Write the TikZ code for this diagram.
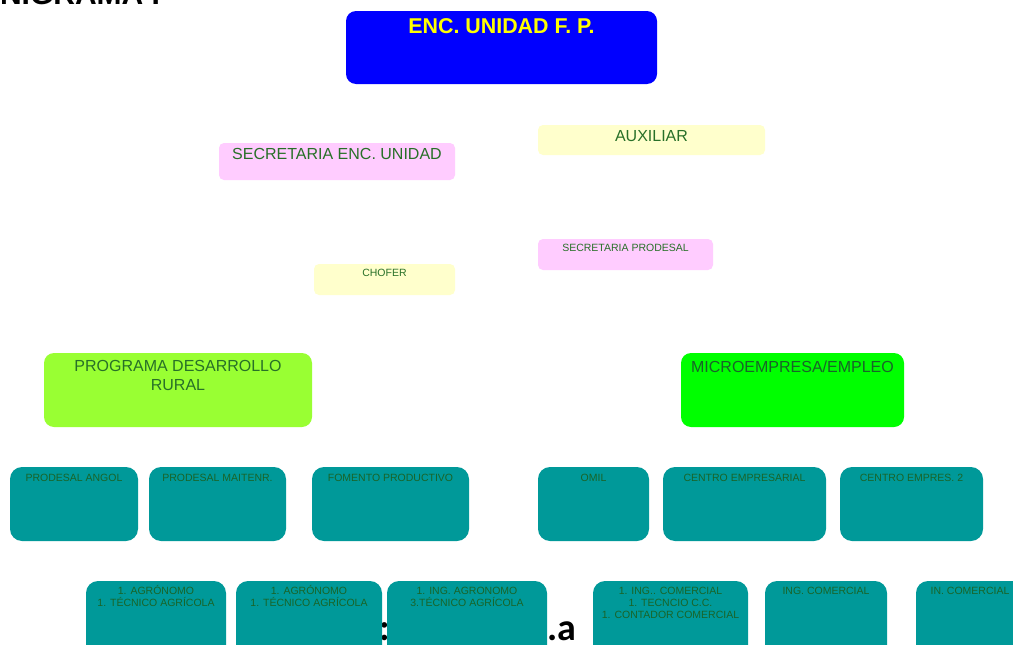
\documentclass[tikz,border=0pt]{standalone}
\usepackage{fontspec}
\setmainfont{Liberation Sans}
\newfontfamily\carl{Carlito}
\definecolor{topblue}{RGB}{0,0,255}
\definecolor{topyellow}{RGB}{255,255,0}
\definecolor{pinkbox}{RGB}{255,204,255}
\definecolor{creambox}{RGB}{255,255,204}
\definecolor{limebox}{RGB}{153,255,51}
\definecolor{greenbox}{RGB}{0,255,0}
\definecolor{tealbox}{RGB}{0,153,153}
\definecolor{txtgreen}{RGB}{40,112,40}
\definecolor{txtdark}{RGB}{25,100,40}
\begin{document}
\begin{tikzpicture}[x=1pt,y=-1pt,
  box/.style={inner sep=0pt, outer sep=0pt, anchor=north west, draw=none},
  txt/.style={inner sep=0pt, outer sep=0pt, anchor=base, align=center},
  lbl/.style={txt, text=txtgreen, font=\fontsize{16}{18.3}\selectfont},
  small/.style={txt, text=txtgreen, font=\fontsize{10.5}{12}\selectfont},
  tsmall/.style={txt, text=txtdark, font=\fontsize{10.5}{12.3}\selectfont},
  tealb/.style={box, fill=tealbox, rounded corners=12pt},
  big/.style={txt, text=black, font=\carl\bfseries\fontsize{38}{40}\selectfont}]
\useasboundingbox (0,0) rectangle (1013,645);
\clip (0,0) rectangle (1013,645);
\fill[white] (0,0) rectangle (1013,645);

% partly hidden title and footer text
\node[txt, anchor=base east, font=\bfseries\fontsize{30}{32}\selectfont] (title) at (160,5) {NIGRAMA I};
\node[big] (colon) at (384.5,640) {:};
\node[big, anchor=base west] (foot) at (547,640) {.a};

% top
\node[box, fill=topblue, rounded corners=10pt, minimum width=311pt, minimum height=73pt] (enc) at (346,11) {};
\node[txt, text=topyellow, font=\bfseries\fontsize{21.4}{24}\selectfont] (encT) at (501.5,33) {ENC. UNIDAD F. P.};

\node[box, fill=pinkbox, rounded corners=5pt, minimum width=236pt, minimum height=37pt] (sec) at (219,143) {};
\node[lbl] (secT) at (337,159) {SECRETARIA ENC. UNIDAD};

\node[box, fill=creambox, rounded corners=5pt, minimum width=227pt, minimum height=30pt] (aux) at (538,125) {};
\node[lbl] (auxT) at (651.5,141) {AUXILIAR};

\node[box, fill=pinkbox, rounded corners=5pt, minimum width=175pt, minimum height=31pt] (secp) at (538,239) {};
\node[small] (secpT) at (625.5,251) {SECRETARIA PRODESAL};

\node[box, fill=creambox, rounded corners=5pt, minimum width=141pt, minimum height=31pt] (cho) at (314,264) {};
\node[small] (choT) at (384.5,276) {CHOFER};

% programs
\node[box, fill=limebox, rounded corners=10pt, minimum width=268pt, minimum height=74pt] (pdr) at (44,353) {};
\node[lbl] (pdrT) at (178,390) {PROGRAMA DESARROLLO\\RURAL};

\node[box, fill=greenbox, rounded corners=10pt, minimum width=223pt, minimum height=74pt] (mic) at (681,353) {};
\node[lbl, text=txtdark] (micT) at (792.5,372) {MICROEMPRESA/EMPLEO};

% teal row
\node[tealb, minimum width=128pt, minimum height=74pt] (pa) at (10,467) {};
\node[tsmall] (paT) at (74,481) {PRODESAL ANGOL};
\node[tealb, minimum width=137pt, minimum height=74pt] (pm) at (149,467) {};
\node[tsmall] (pmT) at (217.5,481) {PRODESAL MAITENR.};
\node[tealb, minimum width=157pt, minimum height=74pt] (fp) at (312,467) {};
\node[tsmall] (fpT) at (390.5,481) {FOMENTO PRODUCTIVO};
\node[tealb, minimum width=111pt, minimum height=74pt] (om) at (538,467) {};
\node[tsmall] (omT) at (593.5,481) {OMIL};
\node[tealb, minimum width=163pt, minimum height=74pt] (ce) at (663,467) {};
\node[tsmall] (ceT) at (744.5,481) {CENTRO EMPRESARIAL};
\node[tealb, minimum width=143pt, minimum height=74pt] (c2) at (840,467) {};
\node[tsmall] (c2T) at (911.5,481) {CENTRO EMPRES. 2};

% bottom row
\node[tealb, minimum width=140pt, minimum height=90pt] (b1) at (86,581) {};
\node[tsmall] (b1T) at (156,606.3) {1. AGRÓNOMO\\1. TÉCNICO AGRÍCOLA};
\node[tealb, minimum width=146pt, minimum height=90pt] (b2) at (236,581) {};
\node[tsmall] (b2T) at (309,606.3) {1. AGRÓNOMO\\1. TÉCNICO AGRÍCOLA};
\node[tealb, minimum width=160pt, minimum height=90pt] (b3) at (387,581) {};
\node[tsmall] (b3T) at (467,606.3) {1. ING. AGRONOMO\\3.TÉCNICO AGRÍCOLA};
\node[tealb, minimum width=155pt, minimum height=90pt] (b4) at (593,581) {};
\node[tsmall] (b4T) at (670.5,618.6) {1. ING.. COMERCIAL\\1. TECNCIO C.C.\\1. CONTADOR COMERCIAL};
\node[tealb, minimum width=122pt, minimum height=90pt] (b5) at (765,581) {};
\node[tsmall] (b5T) at (826,594) {ING. COMERCIAL};
\node[tealb, minimum width=108pt, minimum height=90pt] (b6) at (916,581) {};
\node[tsmall] (b6T) at (970,594) {IN. COMERCIAL};
\end{tikzpicture}
\end{document}
